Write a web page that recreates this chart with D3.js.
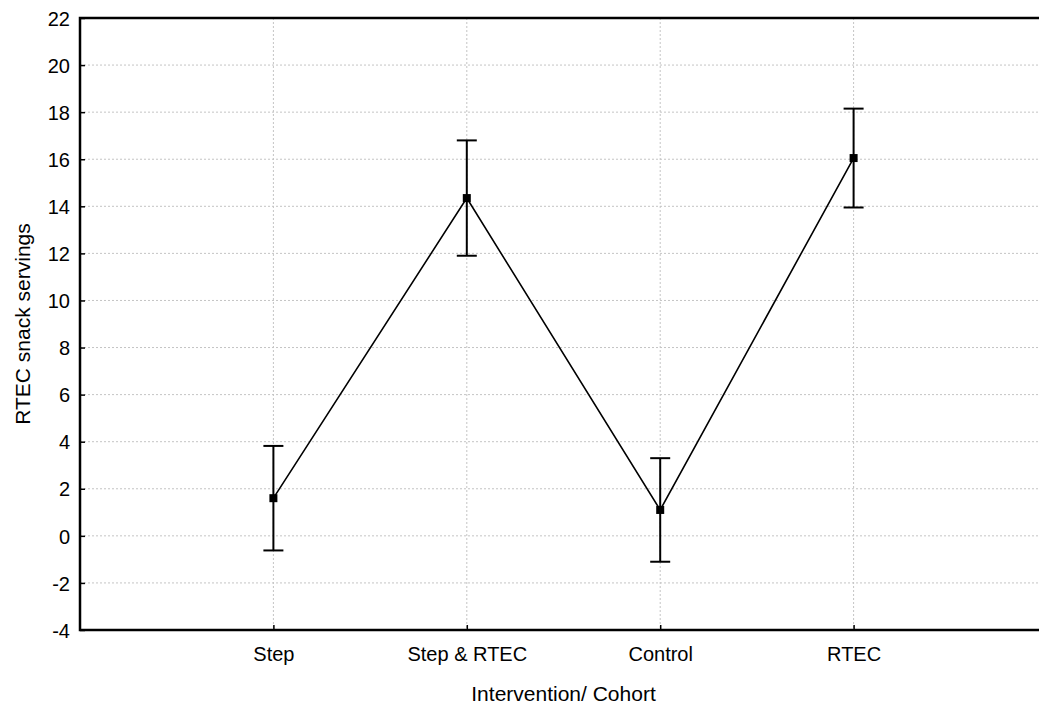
<!DOCTYPE html>
<html>
<head>
<meta charset="utf-8">
<script src="https://cdn.jsdelivr.net/npm/d3@7"></script>
<style>
  body { margin: 0; background: #fff; }
  svg { display: block; font-family: "Liberation Sans", Arial, sans-serif; }
</style>
</head>
<body>
<script>
'use strict';

// data
const groups = ["Step", "Step & RTEC", "Control", "RTEC"];
const means = [1.6, 14.35, 1.1, 16.05];
const errors = [2.22, 2.45, 2.2, 2.1];
const yTicks = [-4, -2, 0, 2, 4, 6, 8, 10, 12, 14, 16, 18, 20, 22];

(function() {
  const width = 1039, height = 706;
  const left = 80, top = 18, bottom = 630;
  const right = left + 5 * 193.4; // frame runs past the window edge

  const svg = d3.select('body').append('svg')
    .attr('width', width)
    .attr('height', height);

  let xScale = d3.scalePoint()
    .domain(["", ...groups, " "])
    .range([left, right]);

  let yScale = d3.scaleLinear()
    .domain([-4, 22])
    .range([bottom, top]);

  // dotted grid
  svg.append('g').selectAll('line')
    .data(yTicks.filter(t => t > -4 && t < 22))
    .enter().append('line')
      .attr('x1', left).attr('x2', right)
      .attr('y1', d => yScale(d)).attr('y2', d => yScale(d))
      .attr('stroke', '#c4c4c4')
      .attr('stroke-width', 1)
      .attr('stroke-dasharray', '2,2');

  svg.append('g').selectAll('line')
    .data(groups)
    .enter().append('line')
      .attr('x1', d => xScale(d)).attr('x2', d => xScale(d))
      .attr('y1', top).attr('y2', bottom)
      .attr('stroke', '#c4c4c4')
      .attr('stroke-width', 1)
      .attr('stroke-dasharray', '2,2');

  // y axis, ticks pointing inside
  let yAxis = d3.axisRight(yScale).tickValues(yTicks).tickSize(5).tickFormat(d3.format('d'));
  let gy = svg.append('g')
    .attr('transform', `translate(${left},0)`)
    .call(yAxis);
  gy.select('.domain').remove();
  gy.selectAll('line').attr('stroke', '#000').attr('stroke-width', 1.5);
  gy.selectAll('text')
    .attr('x', -10)
    .attr('dy', '0.36em')
    .attr('text-anchor', 'end')
    .style('font-size', '20px')
    .attr('fill', '#000')
    .text(d => d < 0 ? '-' + Math.abs(d) : d);

  // x axis, ticks pointing inside
  let xAxis = d3.axisTop(xScale).tickValues(groups).tickSize(5);
  let gx = svg.append('g')
    .attr('transform', `translate(0,${bottom})`)
    .call(xAxis);
  gx.select('.domain').remove();
  gx.selectAll('line').attr('stroke', '#000').attr('stroke-width', 1.5);
  gx.selectAll('text')
    .attr('y', 24)
    .attr('dy', '0.36em')
    .style('font-size', '20px')
    .attr('fill', '#000');

  // frame
  svg.append('rect')
    .attr('x', left).attr('y', top)
    .attr('width', right - left).attr('height', bottom - top)
    .attr('fill', 'none')
    .attr('stroke', '#000')
    .attr('stroke-width', 2.5);

  // connecting line
  let pts = groups.map((g, i) => ({g: g, m: means[i], e: errors[i]}));
  svg.append('path')
    .datum(pts)
    .attr('fill', 'none')
    .attr('stroke', '#000')
    .attr('stroke-width', 1.6)
    .attr('d', d3.line().x(d => xScale(d.g)).y(d => yScale(d.m)));

  // error bars
  let bars = svg.append('g').selectAll('g')
    .data(pts)
    .enter().append('g');
  bars.append('line')
    .attr('x1', d => xScale(d.g)).attr('x2', d => xScale(d.g))
    .attr('y1', d => yScale(d.m - d.e)).attr('y2', d => yScale(d.m + d.e))
    .attr('stroke', '#000').attr('stroke-width', 2);
  bars.append('line')
    .attr('x1', d => xScale(d.g) - 10).attr('x2', d => xScale(d.g) + 10)
    .attr('y1', d => yScale(d.m + d.e)).attr('y2', d => yScale(d.m + d.e))
    .attr('stroke', '#000').attr('stroke-width', 2);
  bars.append('line')
    .attr('x1', d => xScale(d.g) - 10).attr('x2', d => xScale(d.g) + 10)
    .attr('y1', d => yScale(d.m - d.e)).attr('y2', d => yScale(d.m - d.e))
    .attr('stroke', '#000').attr('stroke-width', 2);
  bars.append('rect')
    .attr('x', d => xScale(d.g) - 4).attr('y', d => yScale(d.m) - 4)
    .attr('width', 8).attr('height', 8)
    .attr('fill', '#000');

  // axis titles
  svg.append('text')
    .attr('x', (left + right) / 2)
    .attr('y', 693)
    .attr('dy', '0.36em')
    .attr('text-anchor', 'middle')
    .style('font-size', '21px')
    .text('Intervention/ Cohort');

  svg.append('text')
    .attr('transform', `translate(22, ${(top + bottom) / 2})rotate(-90)`)
    .attr('dy', '0.36em')
    .attr('text-anchor', 'middle')
    .style('font-size', '21px')
    .text('RTEC snack servings');
})();
</script>
</body>
</html>
